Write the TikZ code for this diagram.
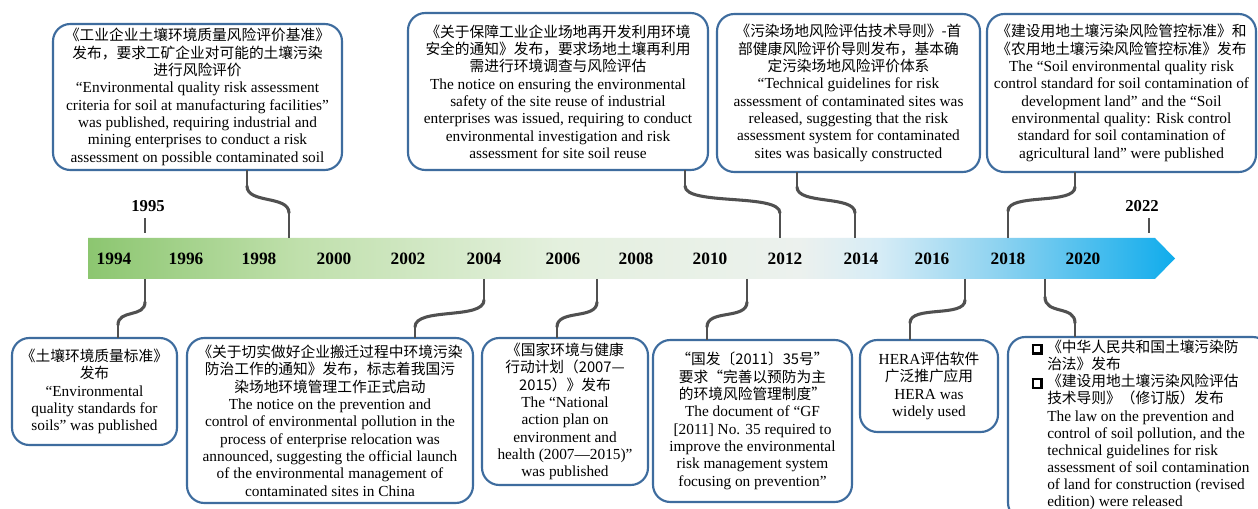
\documentclass[tikz,border=0pt]{standalone}
\usepackage{fontspec}
\setmainfont{Liberation Serif}
\newfontfamily\cjk{Noto Sans CJK SC}[Scale=0.96]
\newcommand\zh[1]{{\cjk #1}}
\newcommand\bul{\llap{\raisebox{0.2pt}{\setlength{\fboxrule}{1.6pt}\setlength{\fboxsep}{0pt}\fbox{\rule{0pt}{5pt}\rule{5pt}{0pt}}}\hspace{3.5pt}}}
\definecolor{boxblue}{RGB}{62,108,158}
\definecolor{conn}{RGB}{80,80,80}
\definecolor{gA}{RGB}{140,198,112}
\definecolor{gB}{RGB}{192,224,172}
\definecolor{gC}{RGB}{228,240,222}
\definecolor{gD}{RGB}{236,241,238}
\definecolor{bA}{RGB}{214,236,246}
\definecolor{bB}{RGB}{140,210,240}
\definecolor{bC}{RGB}{16,172,236}
\pgfdeclarehorizontalshading{band}{100bp}{color(0bp)=(gA); color(25bp)=(gA); color(34.75bp)=(gB); color(46.7bp)=(gC); color(57.75bp)=(gD); color(61.4bp)=(bA); color(66.95bp)=(bB); color(75bp)=(bC); color(100bp)=(bC)}
\begin{document}
\begin{tikzpicture}[x=0.75pt,y=-0.75pt,
  box/.style={draw=boxblue, line width=1.6pt, rounded corners=13pt, fill=white, inner sep=0pt, align=center, font=\fontsize{11.5}{13}\selectfont},
  txt/.style={inner sep=0pt, font=\fontsize{11.5}{12.8}\selectfont},
  yr/.style={font=\fontsize{13}{15}\selectfont\bfseries, inner sep=0pt},
  yrs/.style={font=\fontsize{12.5}{15}\selectfont\bfseries, inner sep=0pt},
  thinline/.style={draw=conn, line width=1pt},
  wave/.style={draw=conn, line width=2.3pt, line cap=round}]
\useasboundingbox (0,0) rectangle (1258,509);
\fill[white] (0,0) rectangle (1258,509);

% timeline band
\path[shading=band] (88,238) -- (1155,238) -- (1175,258.5) -- (1155,279) -- (88,279) -- cycle;
\foreach \y/\x in {1994/114,1996/186,1998/259,2000/334,2002/408,2004/484,2006/563,2008/636,2010/710,2012/785,2014/861,2016/932,2018/1008,2020/1083}
  \node[yr] (y\y) at (\x,259) {\y};
\node[yrs] (y1995) at (148,206) {1995};
\node[yrs] (y2022) at (1142,206) {2022};
\coordinate (k1995a) at (145,218); \coordinate (k1995b) at (145,233);
\coordinate (k2022a) at (1149,218); \coordinate (k2022b) at (1149,233);
\draw[thinline] (k1995a) -- (k1995b) (k2022a) -- (k2022b);

% top boxes
\node[box, minimum width=216.75pt, minimum height=109.5pt] (t1) at (197.5,97) {%
\zh{《工业企业土壤环境质量风险评价基准》}\\
\zh{发布，要求工矿企业对可能的土壤污染}\\
\zh{进行风险评价}\\
“Environmental quality risk assessment\\
criteria for soil at manufacturing facilities”\\
was published, requiring industrial and\\
mining enterprises to conduct a risk\\
assessment on possible contaminated soil};
\node[box, minimum width=225pt, minimum height=117.75pt] (t2) at (558,91.5) {%
\zh{《关于保障工业企业场地再开发利用环境}\\
\zh{安全的通知》发布，要求场地土壤再利用}\\
\zh{需进行环境调查与风险评估}\\
The notice on ensuring the environmental\\
safety of the site reuse of industrial\\
enterprises was issued, requiring to conduct\\
environmental investigation and risk\\
assessment for site soil reuse};
\node[box, minimum width=197.25pt, minimum height=118.5pt] (t3) at (848.5,93) {%
\zh{《污染场地风险评估技术导则》-首}\\
\zh{部健康风险评价导则发布，基本确}\\
\zh{定污染场地风险评价体系}\\
“Technical guidelines for risk\\
assessment of contaminated sites was\\
released, suggesting that the risk\\
assessment system for contaminated\\
sites was basically constructed};
\node[box, minimum width=201.75pt, minimum height=118.5pt] (t4) at (1121.5,93) {%
\zh{《建设用地土壤污染风险管控标准》和}\\
\zh{《农用地土壤污染风险管控标准》发布}\\
The “Soil environmental quality risk\\
control standard for soil contamination of\\
development land” and the “Soil\\
environmental quality: Risk control\\
standard for soil contamination of\\
agricultural land” were published};

% bottom boxes
\node[box, minimum width=123.75pt, minimum height=80.25pt] (b1) at (94.5,391.5) {%
\zh{《土壤环境质量标准》}\\
\zh{发布}\\
“Environmental\\
quality standards for\\
soils” was published};
\node[box, minimum width=214.5pt, minimum height=123.75pt] (b2) at (330,420.5) {%
\zh{《关于切实做好企业搬迁过程中环境污染}\\
\zh{防治工作的通知》发布，标志着我国污}\\
\zh{染场地环境管理工作正式启动}\\
The notice on the prevention and\\
control of environmental pollution in the\\
process of enterprise relocation was\\
announced, suggesting the official launch\\
of the environmental management of\\
contaminated sites in China};
\node[box, minimum width=124.5pt, minimum height=110.25pt] (b3) at (565,411.5) {%
\zh{《国家环境与健康}\\
\zh{行动计划（2007—}\\
\zh{2015）》发布}\\
The “National\\
action plan on\\
environment and\\
health (2007—2015)”\\
was published};
\node[box, minimum width=149.25pt, minimum height=121.5pt] (b4) at (752.5,421) {%
\zh{“国发〔2011〕35号”}\\
\zh{要求“完善以预防为主}\\
\zh{的环境风险管理制度”}\\
The document of “GF\\
{[2011]} No. 35 required to\\
improve the environmental\\
risk management system\\
focusing on prevention”};
\node[box, minimum width=103.5pt, minimum height=69pt] (b5) at (929,386) {%
HERA\zh{评估软件}\\
\zh{广泛推广应用}\\
HERA was\\
widely used};
\node[box, minimum width=196.5pt, minimum height=137.25pt] (b6) at (1139,428.5) {};
\node[txt, anchor=north west, align=left] (b6t) at (1047,340) {%
\bul\zh{《中华人民共和国土壤污染防}\\
\zh{治法》发布}\\
\bul\zh{《建设用地土壤污染风险评估}\\
\zh{技术导则》（修订版）发布}\\
The law on the prevention and\\
control of soil pollution, and the\\
technical guidelines for risk\\
assessment of soil contamination\\
of land for construction (revised\\
edition) were released};

% top connectors
\coordinate (c1a) at (247,170); \coordinate (c1b) at (247,186); \coordinate (c1c) at (289,213); \coordinate (c1d) at (289,238);
\draw[thinline] (c1a) -- (c1b) (c1c) -- (c1d);
\draw[wave] (c1b) .. controls (247,204) and (289,195) .. (c1c);
\coordinate (c2a) at (685,170); \coordinate (c2b) at (685,186); \coordinate (c2c) at (780,213); \coordinate (c2d) at (780,238);
\draw[thinline] (c2a) -- (c2b) (c2c) -- (c2d);
\draw[wave] (c2b) .. controls (685,206) and (780,193) .. (c2c);
\coordinate (c3a) at (797,172); \coordinate (c3b) at (797,187); \coordinate (c3c) at (855,213); \coordinate (c3d) at (855,238);
\draw[thinline] (c3a) -- (c3b) (c3c) -- (c3d);
\draw[wave] (c3b) .. controls (797,205) and (855,195) .. (c3c);
\coordinate (c4a) at (1075,172); \coordinate (c4b) at (1075,187); \coordinate (c4c) at (1008,211); \coordinate (c4d) at (1008,238);
\draw[thinline] (c4a) -- (c4b) (c4c) -- (c4d);
\draw[wave] (c4b) .. controls (1075,205) and (1008,193) .. (c4c);

% bottom connectors
\coordinate (d1a) at (145,279); \coordinate (d1b) at (145,302); \coordinate (d1c) at (118,325); \coordinate (d1d) at (118,338);
\draw[thinline] (d1a) -- (d1b) (d1c) -- (d1d);
\draw[wave] (d1b) .. controls (145,318) and (118,309) .. (d1c);
\coordinate (d2a) at (484,279); \coordinate (d2b) at (484,300); \coordinate (d2c) at (415,327); \coordinate (d2d) at (415,338);
\draw[thinline] (d2a) -- (d2b) (d2c) -- (d2d);
\draw[wave] (d2b) .. controls (484,320) and (415,307) .. (d2c);
\coordinate (d3a) at (597,279); \coordinate (d3b) at (597,302); \coordinate (d3c) at (557,327); \coordinate (d3d) at (557,338);
\draw[thinline] (d3a) -- (d3b) (d3c) -- (d3d);
\draw[wave] (d3b) .. controls (597,320) and (557,309) .. (d3c);
\coordinate (d4a) at (747,279); \coordinate (d4b) at (747,302); \coordinate (d4c) at (707,327); \coordinate (d4d) at (707,340);
\draw[thinline] (d4a) -- (d4b) (d4c) -- (d4d);
\draw[wave] (d4b) .. controls (747,320) and (707,309) .. (d4c);
\coordinate (d5a) at (965,279); \coordinate (d5b) at (965,300); \coordinate (d5c) at (910,323); \coordinate (d5d) at (910,340);
\draw[thinline] (d5a) -- (d5b) (d5c) -- (d5d);
\draw[wave] (d5b) .. controls (965,318) and (910,305) .. (d5c);
\coordinate (d6a) at (1045,279); \coordinate (d6b) at (1045,297); \coordinate (d6c) at (1075,323); \coordinate (d6d) at (1075,337);
\draw[thinline] (d6a) -- (d6b) (d6c) -- (d6d);
\draw[wave] (d6b) .. controls (1045,315) and (1075,305) .. (d6c);
\end{tikzpicture}
\end{document}
